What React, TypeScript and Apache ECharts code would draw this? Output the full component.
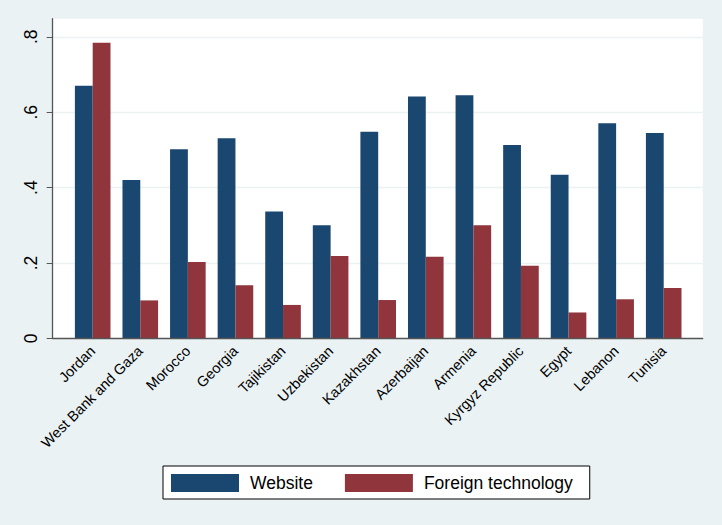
import React, { useEffect, useRef } from "react";
import * as echarts from "echarts";

const categories = [
  "Jordan",
  "West Bank and Gaza",
  "Morocco",
  "Georgia",
  "Tajikistan",
  "Uzbekistan",
  "Kazakhstan",
  "Azerbaijan",
  "Armenia",
  "Kyrgyz Republic",
  "Egypt",
  "Lebanon",
  "Tunisia",
];
const websiteValues = [0.670, 0.420, 0.502, 0.531, 0.337, 0.300, 0.548, 0.642, 0.645, 0.513, 0.434, 0.571, 0.545];
const foreignTechValues = [0.784, 0.101, 0.203, 0.141, 0.089, 0.219, 0.102, 0.217, 0.300, 0.193, 0.069, 0.104, 0.134];
const seriesNames = ["Website", "Foreign technology"];
const yTickValues = [0, 0.2, 0.4, 0.6, 0.8];
const yTickLabels = ["0", ".2", ".4", ".6", ".8"];

const FONT = '"Liberation Sans", Arial, sans-serif';
const BLUE = "#1a476f";
const RED = "#90353b";
const BG = "#eaf2f3";

export default function App() {
  const ref = useRef<HTMLDivElement>(null);
  useEffect(() => {
    if (!ref.current) return;
    const chart = echarts.init(ref.current, undefined, { renderer: "svg" });
    const yMax = 0.848;
    const labelFor = (v: number) => {
      for (let i = 0; i < yTickValues.length; i++) {
        if (Math.abs(v - yTickValues[i]) < 1e-6) return yTickLabels[i];
      }
      return "";
    };
    const plotTop = 18.7;
    const plotBottom = 186.5;
    chart.setOption({
      animation: false,
      backgroundColor: BG,
      textStyle: { fontFamily: FONT },
      grid: [
        {
          left: 52.7,
          right: 19.3,
          top: plotTop,
          bottom: plotBottom,
          show: true,
          backgroundColor: "#ffffff",
          borderWidth: 0,
          containLabel: false,
        },
        {
          left: 68.9,
          right: 34.5,
          top: plotTop,
          bottom: plotBottom,
          containLabel: false,
        },
      ],
      xAxis: [
        {
          type: "value",
          gridIndex: 0,
          min: 0,
          max: 1,
          z: 5,
          axisLine: { show: true, lineStyle: { color: "#555555", width: 1.3 } },
          axisTick: { show: false },
          axisLabel: { show: false },
          splitLine: { show: false },
        },
        {
          type: "category",
          gridIndex: 1,
          data: categories,
          axisLine: { show: false },
          axisTick: { show: false },
          axisLabel: {
            rotate: 45,
            margin: 10,
            fontSize: 14.5,
            color: "#000000",
            fontFamily: FONT,
            interval: 0,
          },
          splitLine: { show: false },
        },
      ],
      yAxis: [
        {
          type: "value",
          gridIndex: 0,
          min: 0,
          max: yMax,
          interval: 0.2,
          axisLine: { show: true, lineStyle: { color: "#555555", width: 1.3 } },
          axisTick: { show: true, length: 6, lineStyle: { color: "#555555" } },
          axisLabel: {
            rotate: 90,
            margin: 12.5,
            fontSize: 17.5,
            color: "#000000",
            fontFamily: FONT,
            showMaxLabel: false,
            formatter: (v: number) => labelFor(v),
          },
          splitLine: {
            show: true,
            showMinLine: false,
            showMaxLine: false,
            lineStyle: { color: BG, width: 1.3 },
          },
        },
        {
          type: "value",
          gridIndex: 1,
          min: 0,
          max: yMax,
          show: false,
          splitLine: { show: false },
        },
      ],
      legend: {
        left: 163,
        top: 466,
        orient: "horizontal",
        padding: [8, 17, 7, 8],
        itemWidth: 68,
        itemHeight: 18,
        itemGap: 32,
        icon: "rect",
        backgroundColor: "#ffffff",
        borderColor: "#000000",
        borderWidth: 1,
        textStyle: {
          fontSize: 17.5,
          color: "#000000",
          fontFamily: FONT,
          padding: [0, 0, 0, 6],
        },
        data: seriesNames,
      },
      series: [
        {
          name: seriesNames[0],
          type: "bar",
          xAxisIndex: 1,
          yAxisIndex: 1,
          data: websiteValues,
          barWidth: 17.8,
          barGap: "0%",
          itemStyle: { color: BLUE },
        },
        {
          name: seriesNames[1],
          type: "bar",
          xAxisIndex: 1,
          yAxisIndex: 1,
          data: foreignTechValues,
          barWidth: 17.8,
          barGap: "0%",
          itemStyle: { color: RED },
        },
      ],
    });
    return () => chart.dispose();
  }, []);
  return (
    <div
      ref={ref}
      style={{ position: "fixed", left: 0, top: 0, width: 722, height: 525 }}
    />
  );
}
